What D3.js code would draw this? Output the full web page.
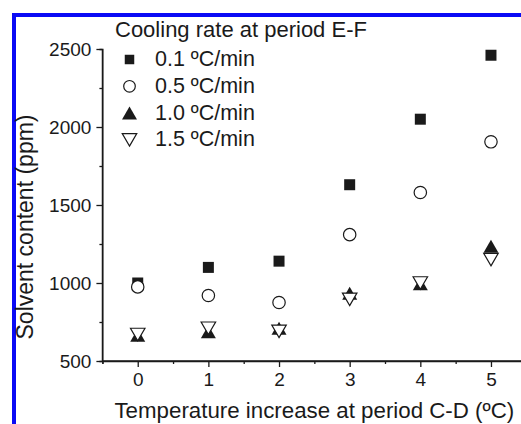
<!DOCTYPE html>
<html><head><meta charset="utf-8">
<script src="https://cdn.jsdelivr.net/npm/d3@7"></script>
<style>html,body{margin:0;padding:0;background:#fff;overflow:hidden}</style>
</head><body>
<svg id="c" width="521" height="424"></svg>
<script>
const xValues = [0, 1, 2, 3, 4, 5];
const rate01 = [1000, 1100, 1140, 1630, 2050, 2460];
const rate05 = [975, 920, 875, 1310, 1580, 1905];
const rate10 = [665, 688, 710, 935, 995, 1235];
const rate15 = [670, 710, 690, 895, 1000, 1150];
const seriesNames = ["0.1 ºC/min", "0.5 ºC/min", "1.0 ºC/min", "1.5 ºC/min"];
const yTicks = [500, 1000, 1500, 2000, 2500];
const yMinor = [750, 1250, 1750, 2250];
const xTicks = [0, 1, 2, 3, 4, 5];
const xMinor = [-0.5, 0.5, 1.5, 2.5, 3.5, 4.5];
const legendTitle = "Cooling rate at period E-F";
const xTitle = "Temperature increase at period C-D (ºC)";
const yTitle = "Solvent content (ppm)";

const svg = d3.select("#c");
const font = "'Liberation Sans', Arial, sans-serif";
const ink = "#1a1a1a";

// blue frame
svg.append("rect").attr("x", 14).attr("y", 15).attr("width", 540).attr("height", 440)
  .attr("fill", "none").attr("stroke", "#0a0af5").attr("stroke-width", 4);

const x = d3.scaleLinear().domain([-0.5, 5.5]).range([102.4, 526.3]);
const y = d3.scaleLinear().domain([500, 2500]).range([361, 49]);

// y axis
const gy = svg.append("g").attr("transform", `translate(${x(-0.5)},0)`);
gy.call(d3.axisLeft(y).tickValues(yTicks).tickSize(6).tickPadding(5).tickFormat(d3.format("d")));
gy.append("g").call(d3.axisLeft(y).tickValues(yMinor).tickSize(3).tickFormat(""));
// x axis
const gx = svg.append("g").attr("transform", `translate(0,${y(500)})`);
gx.call(d3.axisBottom(x).tickValues(xTicks).tickSize(6).tickPadding(6).tickFormat(d3.format("d")));
gx.append("g").call(d3.axisBottom(x).tickValues(xMinor).tickSize(3).tickFormat(""));

svg.selectAll(".domain").attr("stroke", ink).attr("stroke-width", 1.3);
svg.selectAll(".tick line").attr("stroke", ink).attr("stroke-width", 1.3);
svg.selectAll(".tick text").attr("fill", ink).attr("font-family", font).attr("font-size", 19);
gy.select(".domain").attr("d", `M0,${y(500)}V${y(2500)}`);
gx.select(".domain").attr("d", `M${x(-0.5)},0H${x(5.5)}`);

// titles
svg.append("text").attr("x", (x(-0.5) + x(5.5)) / 2).attr("y", 418).attr("text-anchor", "middle")
  .attr("font-family", font).attr("font-size", 22.3).attr("fill", ink).text(xTitle);
svg.append("text").attr("transform", `translate(33,${(y(500) + y(2500)) / 2 + 22}) rotate(-90)`)
  .attr("text-anchor", "middle").attr("font-family", font).attr("font-size", 23).attr("fill", ink).text(yTitle);

// symbols
function square(s) { const h = s / 2; return `M${-h},${-h}H${h}V${h}H${-h}Z`; }
function upTri(w, h) { return `M0,${-h / 2}L${w / 2},${h / 2}L${-w / 2},${h / 2}Z`; }
function downTri(w, h) { return `M0,${h / 2}L${w / 2},${-h / 2}L${-w / 2},${-h / 2}Z`; }

const series = [
  { vals: rate01, kind: "sq" },
  { vals: rate05, kind: "ci" },
  { vals: rate10, kind: "up" },
  { vals: rate15, kind: "dn" }
];

function drawSym(g, kind, legend) {
  if (kind === "sq") g.append("path").attr("d", square(legend ? 9.5 : 11)).attr("fill", ink);
  else if (kind === "ci") g.append("circle").attr("r", legend ? 5.8 : 6.2).attr("fill", "#fff").attr("stroke", ink).attr("stroke-width", 1.2);
  else if (kind === "up") g.append("path").attr("d", upTri(15, 13)).attr("fill", ink);
  else g.append("path").attr("d", downTri(14.5, 12.5)).attr("fill", "#fff").attr("stroke", ink).attr("stroke-width", 1.2);
}

series.forEach(s => {
  svg.append("g").selectAll("g").data(xValues.map((xv, i) => [xv, s.vals[i]])).join("g")
    .attr("transform", d => `translate(${x(d[0])},${y(d[1])})`)
    .each(function () { drawSym(d3.select(this), s.kind, false); });
});

// legend
svg.append("text").attr("x", 115).attr("y", 36.5).attr("font-family", font).attr("font-size", 22)
  .attr("fill", ink).text(legendTitle);
series.forEach((s, i) => {
  const cy = 59.5 + i * 26.8;
  const g = svg.append("g").attr("transform", `translate(129.5,${cy})`);
  drawSym(g, s.kind, true);
  svg.append("text").attr("x", 155).attr("y", cy + 6.5).attr("font-family", font).attr("font-size", 21.5)
    .attr("fill", ink).text(seriesNames[i]);
});
</script>
</body></html>
